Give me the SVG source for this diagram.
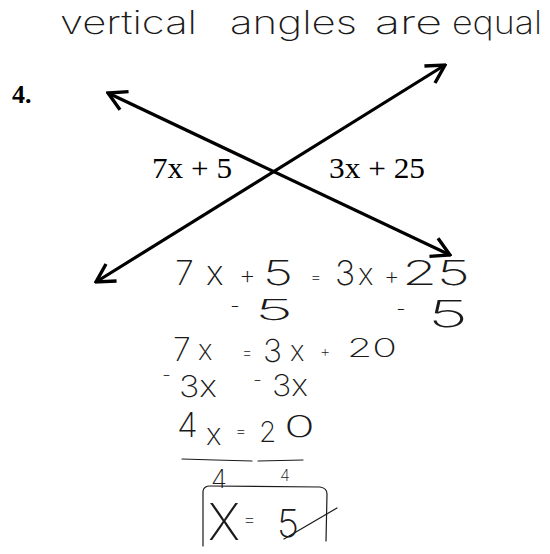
<svg xmlns="http://www.w3.org/2000/svg" width="550" height="554" viewBox="0 0 550 554">
<style>
.hw{font-family:Inter,"Open Sans","DejaVu Sans",sans-serif;font-weight:200;fill:#1a1a1a}
.lbl{font-family:"Liberation Serif","Times New Roman",serif;font-size:30px;fill:#000}
.num{font-family:"Liberation Serif","Times New Roman",serif;font-weight:bold;font-size:26px;fill:#000}
.ln{stroke:#000;stroke-width:3.2;fill:none}
.sk{stroke:#1a1a1a;stroke-width:1.2;fill:none;stroke-linecap:round}
</style>
<defs>
<marker id="ah" viewBox="-22 -12 24 24" refX="0" refY="0" markerWidth="24" markerHeight="24" markerUnits="userSpaceOnUse" orient="auto-start-reverse">
<path d="M-18,-10 L0,0 L-18,10" fill="none" stroke="#000" stroke-width="3.4"/>
</marker>
</defs>
<rect width="550" height="554" fill="#fff"/>
<g id="title">
<text class="hw" x="60" y="34" font-size="32" textLength="137" lengthAdjust="spacingAndGlyphs">vertical</text>
<text class="hw" x="230" y="34" font-size="32" textLength="127" lengthAdjust="spacingAndGlyphs">angles</text>
<text class="hw" x="375" y="34" font-size="32" textLength="67" lengthAdjust="spacingAndGlyphs">are</text>
<text class="hw" x="452" y="34" font-size="32" textLength="90" lengthAdjust="spacingAndGlyphs">equal</text>
</g>
<g id="problem-number"><text class="num" x="12" y="103">4.</text></g>
<g id="connectors">
<line class="ln" x1="108" y1="93" x2="450" y2="255" marker-start="url(#ah)" marker-end="url(#ah)"/>
<line class="ln" x1="96" y1="282" x2="445" y2="65" marker-start="url(#ah)" marker-end="url(#ah)"/>
</g>
<g id="angle-left"><text class="lbl" x="152" y="178" textLength="80" lengthAdjust="spacingAndGlyphs">7x + 5</text></g>
<g id="angle-right"><text class="lbl" x="329" y="178" textLength="96" lengthAdjust="spacingAndGlyphs">3x + 25</text></g>
<g id="work">
<text class="hw" x="175" y="285" font-size="34">7</text>
<text class="hw" x="206" y="285" font-size="34">x</text>
<text class="hw" x="239" y="284" font-size="26">+</text>
<text class="hw" x="263" y="285" font-size="34" textLength="30" lengthAdjust="spacingAndGlyphs">5</text>
<text class="hw" x="310" y="283" font-size="18">=</text>
<text class="hw" x="335" y="285" font-size="34">3</text>
<text class="hw" x="358" y="285" font-size="30">x</text>
<text class="hw" x="384" y="284" font-size="24">+</text>
<text class="hw" x="402" y="285" font-size="34" textLength="68" lengthAdjust="spacingAndGlyphs">25</text>

<text class="hw" x="230" y="313" font-size="22">-</text>
<text class="hw" x="255" y="320" font-size="28" textLength="38" lengthAdjust="spacingAndGlyphs">5</text>
<text class="hw" x="396" y="316" font-size="22">-</text>
<text class="hw" x="428" y="327" font-size="36" textLength="40" lengthAdjust="spacingAndGlyphs">5</text>

<text class="hw" x="173" y="361" font-size="32">7</text>
<text class="hw" x="198" y="360" font-size="28">x</text>
<text class="hw" x="242" y="358" font-size="16">=</text>
<text class="hw" x="263" y="362" font-size="32">3</text>
<text class="hw" x="290" y="361" font-size="28">x</text>
<text class="hw" x="320" y="357" font-size="16">+</text>
<text class="hw" x="347" y="357" font-size="26" textLength="50" lengthAdjust="spacingAndGlyphs">20</text>

<text class="hw" x="162" y="382" font-size="20">-</text>
<text class="hw" x="179" y="397" font-size="30" textLength="38" lengthAdjust="spacingAndGlyphs">3x</text>
<text class="hw" x="253" y="387" font-size="20">-</text>
<text class="hw" x="272" y="396" font-size="30" textLength="36" lengthAdjust="spacingAndGlyphs">3x</text>

<text class="hw" x="177" y="437" font-size="34">4</text>
<text class="hw" x="206" y="445" font-size="30">x</text>
<text class="hw" x="235" y="437" font-size="18">=</text>
<text class="hw" x="259" y="442" font-size="28">2</text>
<text class="hw" x="284" y="437" font-size="30" textLength="31" lengthAdjust="spacingAndGlyphs">0</text>
<path class="sk" d="M182,459 L215,460 L252,461 M258,461 L303,460"/>
<text class="hw" x="211" y="488" font-size="26">4</text>
<text class="hw" x="280" y="481" font-size="16">4</text>
<path class="sk" d="M203,546 L203,491 Q204,486 210,486 L320,487 Q327,488 327,494 L326,541"/>
<text class="hw" x="208" y="540" font-size="50">X</text>
<text class="hw" x="243" y="526" font-size="20">=</text>
<text class="hw" x="277" y="537" font-size="38" textLength="22" lengthAdjust="spacingAndGlyphs">5</text>
<path class="sk" d="M284,539 L337,508"/>
</g>
</svg>
